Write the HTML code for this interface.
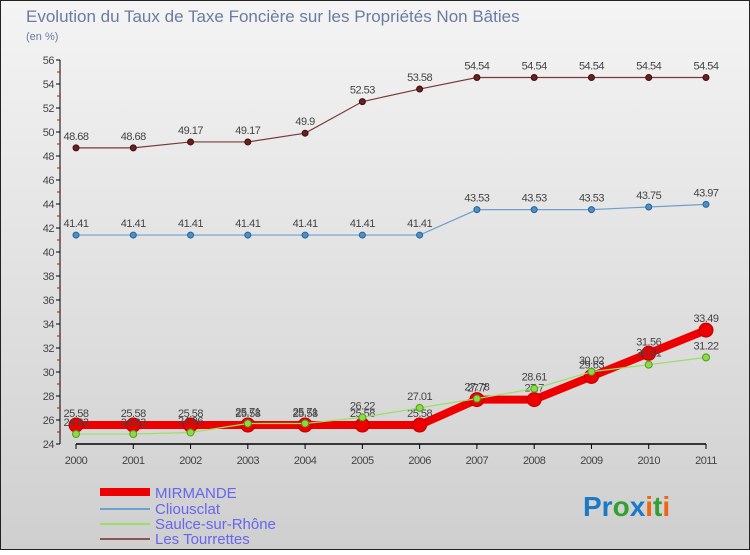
<!DOCTYPE html>
<html><head><meta charset="utf-8"><style>
html,body{margin:0;padding:0}
body{width:750px;height:550px;overflow:hidden;font-family:"Liberation Sans","DejaVu Sans",sans-serif}
</style></head><body>
<svg id="chart" width="750" height="550" xmlns="http://www.w3.org/2000/svg">
<defs>
<linearGradient id="bg" x1="0" y1="0" x2="0" y2="1">
<stop offset="0" stop-color="#f4f4f4"/><stop offset="1" stop-color="#cfcfcf"/>
</linearGradient>
</defs>
<rect x="0.5" y="0.5" width="749" height="549" fill="url(#bg)" stroke="#222"/>
<text x="26" y="22" font-size="17" fill="#6a7ca0">Evolution du Taux de Taxe Foncière sur les Propriétés Non Bâties</text>
<text x="26" y="40" font-size="11" fill="#6a7ca0">(en %)</text>
<g id="axes"></g>
<g id="series"></g>
<g id="legend">
<rect x="100" y="488" width="50" height="8" fill="#e00"/>
<text x="155" y="498" font-size="15" fill="#6666ee">MIRMANDE</text>
<line x1="100" y1="509" x2="150" y2="509" stroke="#6fa0cc" stroke-width="2"/>
<text x="155" y="514" font-size="15" fill="#6666ee">Cliousclat</text>
<line x1="100" y1="524" x2="150" y2="524" stroke="#99e066" stroke-width="2"/>
<text x="155" y="529" font-size="15" fill="#6666ee">Saulce-sur-Rhône</text>
<line x1="100" y1="539" x2="150" y2="539" stroke="#8a5555" stroke-width="2"/>
<text x="155" y="544" font-size="15" fill="#6666ee">Les Tourrettes</text>
</g>
<g font-size="28" font-weight="bold">
<text x="583" y="516"><tspan fill="#1a7ac8">Pr</tspan><tspan fill="#33a033">o</tspan><tspan fill="#1a7ac8">x</tspan><tspan fill="#ee6611">i</tspan><tspan fill="#33a033">t</tspan><tspan fill="#ee6611">i</tspan></text>
</g>
</svg>
<script>
const years=[2000,2001,2002,2003,2004,2005,2006,2007,2008,2009,2010,2011];
const mirmande=[25.58,25.58,25.58,25.58,25.58,25.58,25.58,27.7,27.7,29.63,31.56,33.49];
const cliousclat=[41.41,41.41,41.41,41.41,41.41,41.41,41.41,43.53,43.53,43.53,43.75,43.97];
const saulce=[24.83,24.83,24.96,25.71,25.71,26.22,27.01,27.78,28.61,30.02,30.61,31.22];
const tourrettes=[48.68,48.68,49.17,49.17,49.9,52.53,53.58,54.54,54.54,54.54,54.54,54.54];
const yTicks=[24,26,28,30,32,34,36,38,40,42,44,46,48,50,52,54,56];
const NS="http://www.w3.org/2000/svg";
const x=i=>76+i*(706-76)/(years.length-1);
const y=v=>444-(v-24)*12;
function mk(tag,attrs,parent){const e=document.createElementNS(NS,tag);for(const k in attrs)e.setAttribute(k,attrs[k]);parent.appendChild(e);return e;}
const axes=document.getElementById('axes');
let a=mk('line',{x1:60,y1:y(56),x2:60,y2:444,stroke:'#000'},axes);


a=mk('line',{x1:76,y1:444,x2:706,y2:444,stroke:'#000','stroke-width':1.5},axes);


yTicks.forEach(t=>{
  mk('line',{x1:56,y1:y(t),x2:60,y2:y(t),stroke:'#000'},axes);
  if(t<56) mk('line',{x1:57,y1:y(t+1),x2:60,y2:y(t+1),stroke:'#e00'},axes);
  const l=mk('text',{x:54,y:y(t)+4,'font-size':11,'text-anchor':'end',fill:'#444','letter-spacing':'-0.5'},axes);
  l.textContent=t;
  
  
});
years.forEach((yr,i)=>{
  mk('line',{x1:x(i),y1:444,x2:x(i),y2:449,stroke:'#000'},axes);
  const l=mk('text',{x:x(i),y:464,'font-size':11,'text-anchor':'middle',fill:'#444','letter-spacing':'-0.5'},axes);
  l.textContent=yr;
  
  
});
const g=document.getElementById('series');
function draw(vals,name,color,w,r,dot,stroke){
  const p=mk('polyline',{points:vals.map((v,i)=>x(i)+','+y(v)).join(' '),fill:'none',stroke:color,'stroke-width':w},g);
  
  
  vals.forEach((v,i)=>{
    const c=mk('circle',{cx:x(i),cy:y(v),r:r,fill:dot,stroke:stroke,'stroke-width':1},g);
    
    
    const t=mk('text',{x:x(i),y:y(v)-8,'font-size':11,'text-anchor':'middle',fill:'#444','letter-spacing':'-0.5'},g);
    t.textContent=v;
    
    
  });
}
draw(tourrettes,'les-tourrettes','#7a3a3a',1.2,3,'#6b2020','#3a1010');
draw(cliousclat,'cliousclat','#6fa0cc',1.2,3,'#4a90cc','#2a6090');
draw(mirmande,'mirmande','#ee0000',8,7,'#ee0000','#bb0000');
draw(saulce,'saulce-sur-rhone','#99e066',1.2,3.5,'#88dd44','#559922');
</script>
</body></html>
